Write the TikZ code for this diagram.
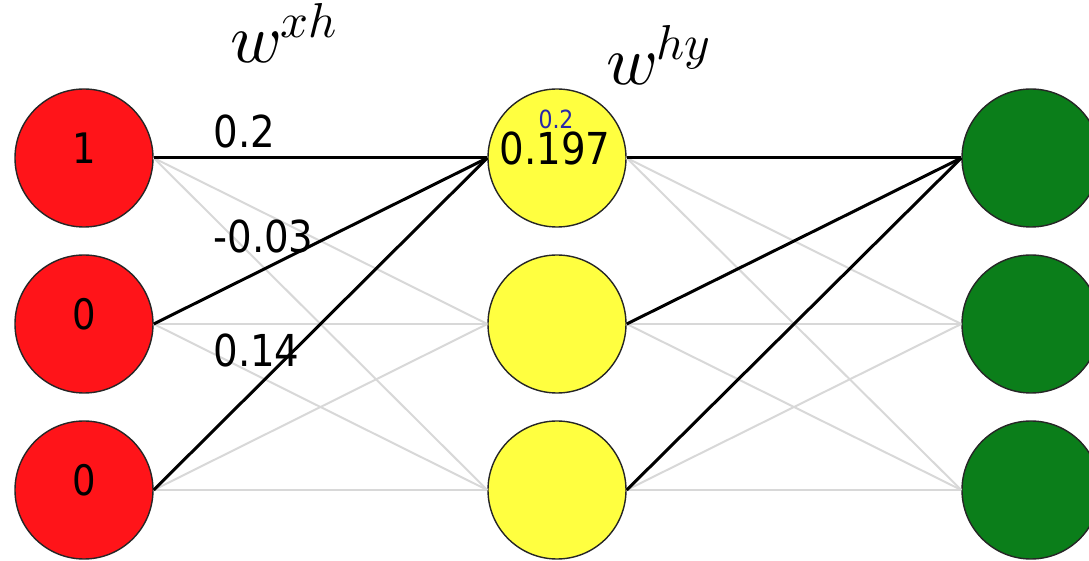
\documentclass[tikz,border=0pt]{standalone}
\usepackage{fontspec}
\usepackage{unicode-math}
\newfontfamily\numfont{DejaVu Sans}[FakeStretch=0.88]
\definecolor{inred}{RGB}{255,20,25}
\definecolor{hidyel}{RGB}{255,255,64}
\definecolor{outgreen}{RGB}{11,126,26}
\definecolor{weakgray}{RGB}{216,216,216}
\definecolor{smallblue}{RGB}{40,40,170}
\begin{document}
\begin{tikzpicture}[x=0.5pt,y=-0.5pt,
  neuron/.style={circle, draw=black!85, line width=0.7pt, minimum size=69pt, inner sep=0pt},
  strongline/.style={line width=1.5pt, black},
  weakline/.style={line width=1pt, weakgray},
  numlbl/.style={font=\numfont\fontsize{21}{25}\selectfont, anchor=base, inner sep=0pt},
  wlbl/.style={font=\numfont\fontsize{22}{26}\selectfont, anchor=base west, inner sep=0pt},
  mathlbl/.style={font=\fontsize{35}{42}\selectfont, anchor=base west, inner sep=0pt}]
\clip (0,0) rectangle (1089,561);
\useasboundingbox (0,0) rectangle (1089,561);

% neurons
\node[neuron, fill=inred]    (x1) at (84,158) {};
\node[neuron, fill=inred]    (x2) at (84,324) {};
\node[neuron, fill=inred]    (x3) at (84,490) {};
\node[neuron, fill=hidyel]   (h1) at (557,158) {};
\node[neuron, fill=hidyel]   (h2) at (557,324) {};
\node[neuron, fill=hidyel]   (h3) at (557,490) {};
\node[neuron, fill=outgreen] (y1) at (1031,158) {};
\node[neuron, fill=outgreen] (y2) at (1031,324) {};
\node[neuron, fill=outgreen] (y3) at (1031,490) {};

% weak connections
\foreach \a in {x1,x2,x3}{
  \foreach \b in {h2,h3}{ \draw[weakline] (\a.east) -- (\b.west); }
}
\foreach \a in {h1,h2,h3}{
  \foreach \b in {y2,y3}{ \draw[weakline] (\a.east) -- (\b.west); }
}
% strong connections
\foreach \a in {x1,x2,x3}{ \draw[strongline] (\a.east) -- (h1.west); }
\foreach \a in {h1,h2,h3}{ \draw[strongline] (\a.east) -- (y1.west); }

% neuron texts
\node[numlbl] (t1) at (84,164) {1};
\node[numlbl] (t2) at (84,330) {0};
\node[numlbl] (t3) at (84,496) {0};
\node[font=\numfont\fontsize{12.5}{15}\selectfont, text=smallblue, anchor=base, inner sep=0pt] (hb) at (556,129) {0.2};
\node[font=\numfont\fontsize{22}{26}\selectfont, anchor=base, inner sep=0pt] (hv) at (555,165) {0.197};

% weights
\node[wlbl] (w1) at (213,148) {0.2};
\node[wlbl] (w2) at (213,253) {-0.03};
\node[wlbl] (w3) at (213,367) {0.14};

% matrix names
\node[mathlbl] (mxh) at (230,63) {$w^{xh}$};
\node[mathlbl] (mhy) at (606,85) {$w^{hy}$};
\end{tikzpicture}
\end{document}
